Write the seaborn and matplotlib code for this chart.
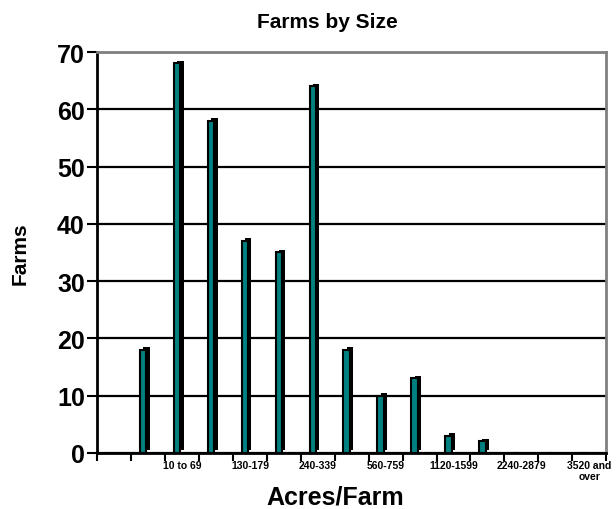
import numpy as np
import pandas as pd
import matplotlib
matplotlib.use("Agg")
import matplotlib.pyplot as plt
import matplotlib.patheffects as pe
import seaborn as sns

# Kategorien (Acres pro Farm) und Anzahl Farms
categories = ["", "1 to 9", "10 to 69", "70-129", "130-179", "180-239", "240-339",
              "340-559", "560-759", "760-1119", "1120-1599", "1600-2239",
              "2240-2879", "2880-3519", "3520 and\nover"]
farms = [np.nan, 18, 68, 58, 37, 35, 64, 18, 10, 13, 3, 2, 0, 0, 0]
yticks = [0, 10, 20, 30, 40, 50, 60, 70]

df = pd.DataFrame({"Acres": categories, "Farms": farms}).dropna()

sns.set_style("white", {"xtick.bottom": True, "ytick.left": True,
                        "text.color": "black", "axes.labelcolor": "black",
                        "xtick.color": "black", "ytick.color": "black"})
plt.rcParams["font.family"] = ["Liberation Sans", "DejaVu Sans"]
plt.rcParams["font.weight"] = "bold"

fig = plt.figure(figsize=(6.16, 5.10), dpi=100)
ax = fig.add_axes([0.158, 0.110, 0.826, 0.786])

sns.barplot(data=df, x="Acres", y="Farms", order=categories, color="#008080",
            width=0.19, edgecolor="black", linewidth=1.5, saturation=1, ax=ax, zorder=3)

# 3D-Effekt der Balken
for bar in ax.patches:
    bar.set_path_effects([pe.SimplePatchShadow(offset=(2.4, 2.0), shadow_rgbFace="black", alpha=1),
                          pe.Normal()])

ax.set_ylim(0, 70)
ax.set_yticks(yticks)
ax.set_yticklabels([str(t) for t in yticks], fontsize=18, fontweight="bold")
ax.yaxis.grid(True, color="black", linewidth=1.6, zorder=0)
ax.set_axisbelow(True)

# Kategoriegrenzen als Ticks, Beschriftung jede zweite Kategorie
n = len(categories)
ax.set_xlim(-0.35, n - 0.35)
ax.set_xticks([i - 0.35 for i in range(n + 1)])
ax.set_xticklabels([])
ax.set_xticks([i + 0.15 for i in range(n)], minor=True)
ax.set_xticklabels([c if i % 2 == 0 else "" for i, c in enumerate(categories)],
                   minor=True, fontsize=7.5, fontweight="bold", linespacing=1.1)
ax.tick_params(axis="x", which="minor", length=0, pad=5)
ax.tick_params(axis="x", which="major", length=6, width=1.5, color="black", direction="out")
ax.tick_params(axis="y", length=7, width=1.5, color="black", direction="out", pad=2)

for side in ["left", "bottom"]:
    ax.spines[side].set_color("black")
    ax.spines[side].set_linewidth(2)
for side in ["top", "right"]:
    ax.spines[side].set_color("#808080")
    ax.spines[side].set_linewidth(2)

ax.set_xlabel("Acres/Farm", fontsize=18, fontweight="bold")
ax.xaxis.set_label_coords(0.467, -0.078)
ax.set_ylabel("Farms", fontsize=15, fontweight="bold", labelpad=20)
fig.text(0.531, 0.955, "Farms by Size", fontsize=15, fontweight="bold", ha="center", va="center")

fig.savefig("out.png", dpi=100)
